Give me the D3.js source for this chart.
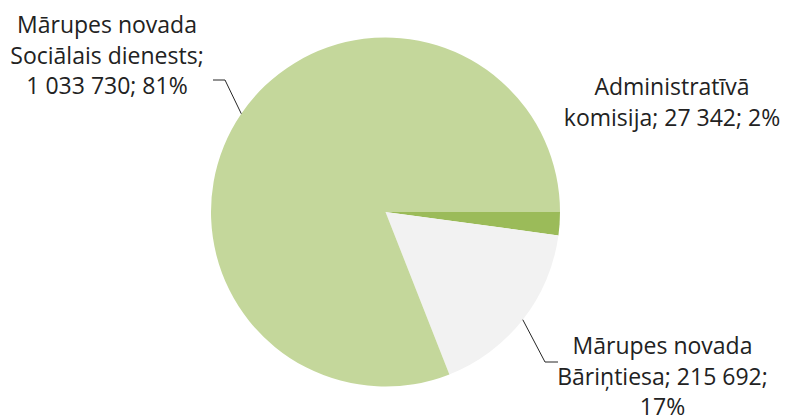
<!DOCTYPE html>
<html>
<head>
<meta charset="utf-8">
<script src="https://cdn.jsdelivr.net/npm/d3@7"></script>
<style>
  body { margin: 0; background: #fff; }
  svg { display: block; }
</style>
</head>
<body>
<script>
// data (clockwise from 3 o'clock)
const categories = ['Administratīvā komisija', 'Mārupes novada Bāriņtiesa', 'Mārupes novada Sociālais dienests'];
const values = [27342, 215692, 1033730];
const percents = ['2%', '17%', '81%'];
const labelLines = [
  ['Administratīvā', 'komisija; 27 342; 2%'],
  ['Mārupes novada', 'Bāriņtiesa; 215 692;', '17%'],
  ['Mārupes novada', 'Sociālais dienests;', '1 033 730; 81%']
];
const colors = ['#9bbb59', '#f2f2f2', '#c4d79b'];

// layout
const width = 785, height = 417;
const cx = 385.5, cy = 212, radius = 174.5;
const lineH = 30.5;
// label text centre x, first baseline y, leader elbow/end (null = no leader)
const labelPos = [
  {x: 672, y: 95, leader: null},
  {x: 662.5, y: 354, leader: {elbow: [545, 362], end: [558, 362]}},
  {x: 107, y: 33, leader: {elbow: [225, 80], end: [213, 80]}}
];

const data = categories.map((c, i) => ({name: c, value: values[i], pct: percents[i], i: i}));

const svg = d3.select('body').append('svg')
  .attr('width', width)
  .attr('height', height);

const pie = d3.pie().sort(null).value(d => d.value)
  .startAngle(Math.PI / 2).endAngle(Math.PI / 2 + 2 * Math.PI);
const arcs = pie(data);

const arc = d3.arc().innerRadius(0).outerRadius(radius);
const edgeArc = d3.arc().innerRadius(radius).outerRadius(radius);

const g = svg.append('g').attr('transform', `translate(${cx},${cy})`);

g.selectAll('path').data(arcs).join('path')
  .attr('d', arc)
  .attr('fill', d => colors[d.data.i]);

// leader lines
arcs.forEach(d => {
  const lp = labelPos[d.data.i];
  if (!lp.leader) return;
  const p = edgeArc.centroid(d);
  const pts = [[p[0] + cx, p[1] + cy], lp.leader.elbow, lp.leader.end];
  svg.append('path')
    .attr('d', d3.line()(pts))
    .attr('fill', 'none')
    .attr('stroke', '#262626')
    .attr('stroke-width', 1);
});

// labels
arcs.forEach(d => {
  const lp = labelPos[d.data.i];
  const t = svg.append('text')
    .attr('text-anchor', 'middle')
    .attr('font-family', 'Open Sans, sans-serif')
    .attr('font-size', 23)
    .attr('fill', '#222');
  labelLines[d.data.i].forEach((s, k) => {
    t.append('tspan')
      .attr('x', lp.x)
      .attr('y', lp.y + k * lineH)
      .text(s);
  });
});
</script>
</body>
</html>
